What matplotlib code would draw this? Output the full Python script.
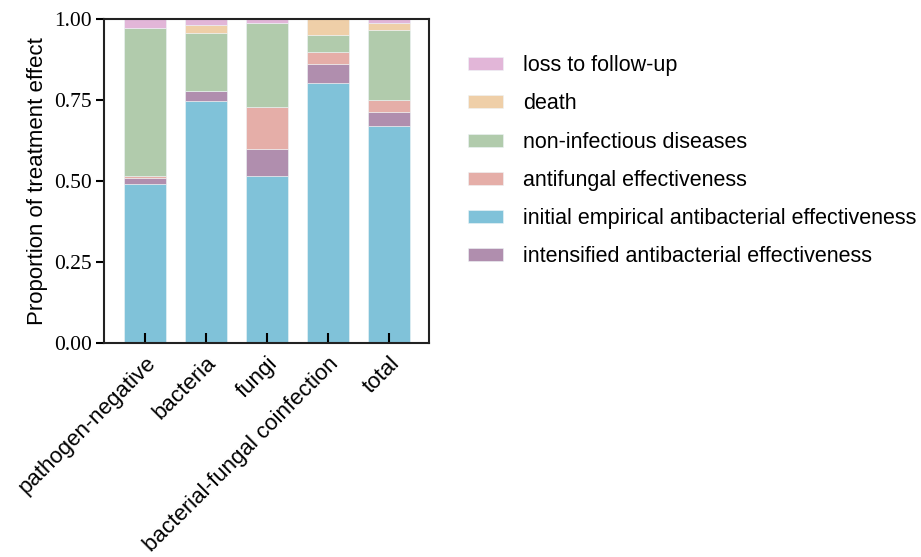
import matplotlib
matplotlib.use("Agg")
import matplotlib.pyplot as plt
import numpy as np

groups = ["pathogen-negative", "bacteria", "fungi", "bacterial-fungal coinfection", "total"]

# stacked from bottom to top
initial_empirical = [0.491, 0.747, 0.516, 0.802, 0.671]
intensified = [0.018, 0.031, 0.083, 0.058, 0.043]
antifungal = [0.006, 0.000, 0.128, 0.037, 0.035]
non_infectious = [0.457, 0.178, 0.260, 0.052, 0.217]
death = [0.000, 0.025, 0.000, 0.051, 0.021]
loss_follow_up = [0.028, 0.019, 0.013, 0.000, 0.013]

series = [
    ("initial empirical antibacterial effectiveness", initial_empirical, "#80C2D9"),
    ("intensified antibacterial effectiveness", intensified, "#B08EAE"),
    ("antifungal effectiveness", antifungal, "#E5AEA8"),
    ("non-infectious diseases", non_infectious, "#B1CBAC"),
    ("death", death, "#EFCFA8"),
    ("loss to follow-up", loss_follow_up, "#E2B6D8"),
]

fig = plt.figure(figsize=(9.21, 5.57), dpi=100)
ax = fig.add_axes([0.113, 0.384, 0.353, 0.582])

x = np.arange(len(groups))
bottom = np.zeros(len(groups))
handles = {}
for name, vals, col in series:
    b = ax.bar(x, vals, width=0.68, bottom=bottom, color=col,
               edgecolor="#eef4f6", linewidth=0.4, label=name)
    handles[name] = b
    bottom += np.array(vals)

ax.set_xlim(-0.67, 4.66)
ax.set_ylim(0, 1.0)
ax.set_yticks([0, 0.25, 0.5, 0.75, 1.0])
ax.set_yticklabels(["0.00", "0.25", "0.50", "0.75", "1.00"],
                   fontfamily="Liberation Serif", fontsize=15.5)
ax.set_xticks(x)
ax.set_xticklabels(groups, rotation=45, ha="right", rotation_mode="anchor",
                   fontfamily="Liberation Sans", fontsize=16)
ax.set_ylabel("Proportion of treatment effect", fontfamily="Liberation Sans",
              fontsize=16, labelpad=4)

for s in ax.spines.values():
    s.set_linewidth(1.5)
    s.set_color("#222222")
ax.tick_params(axis="y", direction="out", length=6, width=1.5, pad=3)
ax.tick_params(axis="x", direction="in", length=7, width=1.5, pad=7)

order = ["loss to follow-up", "death", "non-infectious diseases",
         "antifungal effectiveness", "initial empirical antibacterial effectiveness",
         "intensified antibacterial effectiveness"]
leg = ax.legend([handles[n] for n in order], order,
                loc="upper left", bbox_to_anchor=(1.12, 0.888), frameon=False,
                prop={"family": "Liberation Sans", "size": 15.5},
                handlelength=1.63, handleheight=0.56, labelspacing=0.8,
                handletextpad=0.93, borderaxespad=0, borderpad=0)

fig.savefig("out.png", dpi=100)
